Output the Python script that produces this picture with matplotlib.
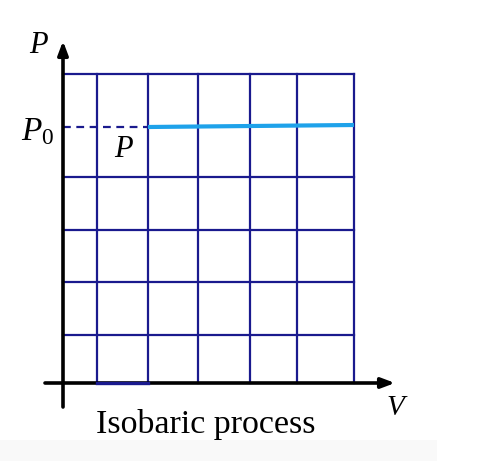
import numpy as np
import matplotlib.pyplot as plt
from matplotlib.patches import Rectangle

# diagram units: origin at the axes crossing, 1 unit ~ 1 px
v_grid = [34, 85, 135, 187, 234, 291]
p_grid = [48, 101, 153, 206, 309]
p0 = 256
v_start, v_end = 85, 291
p_start, p_end = 256, 258
v_max, p_max = 291, 309

navy = '#1a1a8e'
sky = '#1ea2ea'

fig = plt.figure(figsize=(5.01, 4.69), dpi=100)
ax = fig.add_axes([0, 0, 1, 1])
ax.set_xlim(-63, 438)
ax.set_ylim(-86, 383)
ax.axis('off')

# faint band under the caption
ax.add_patch(Rectangle((-63, -78), 437, 21, color='#f9f9f9', lw=0, zorder=0))

for v in v_grid:
    ax.plot([v, v], [0, p_max], color=navy, lw=1.6, zorder=1)
for p in p_grid:
    ax.plot([0, v_max], [p, p], color=navy, lw=1.6, zorder=1)

ax.plot([0, v_start], [p0, p0], color=navy, lw=1.6, ls=(0, (3.5, 2.5)), zorder=2)
ax.plot([v_start, v_end], [p_start, p_end], color=sky, lw=3.0, zorder=3,
        solid_capstyle='butt')

# axes with arrows
head = '-|>,head_length=0.8,head_width=0.3'
ax.annotate('', xy=(332, 0), xytext=(-18, 0),
            arrowprops=dict(arrowstyle=head, color='black', lw=2.6,
                            shrinkA=0, shrinkB=0), zorder=4)
ax.annotate('', xy=(0, 342), xytext=(0, -24),
            arrowprops=dict(arrowstyle=head, color='black', lw=2.6,
                            shrinkA=0, shrinkB=0), zorder=4)
ax.plot([v_grid[0], v_grid[1]], [0, 0], color=navy, lw=2.4, zorder=5)

plt.rcParams['mathtext.fontset'] = 'custom'
plt.rcParams['mathtext.rm'] = 'Liberation Serif'
plt.rcParams['mathtext.it'] = 'Liberation Serif:italic'

ax.text(-34, 330, r'$P$', fontsize=22, ha='left', va='baseline')
ax.text(-42, 243, r'$P_0$', fontsize=24, ha='left', va='baseline')
ax.text(51, 226, r'$P$', fontsize=22, ha='left', va='baseline')
ax.text(323, -32, r'$V$', fontsize=21, ha='left', va='baseline')
ax.text(33, -50, 'Isobaric process', fontsize=24.5, family='Liberation Serif',
        ha='left', va='baseline')

fig.savefig('out.png', dpi=100)
